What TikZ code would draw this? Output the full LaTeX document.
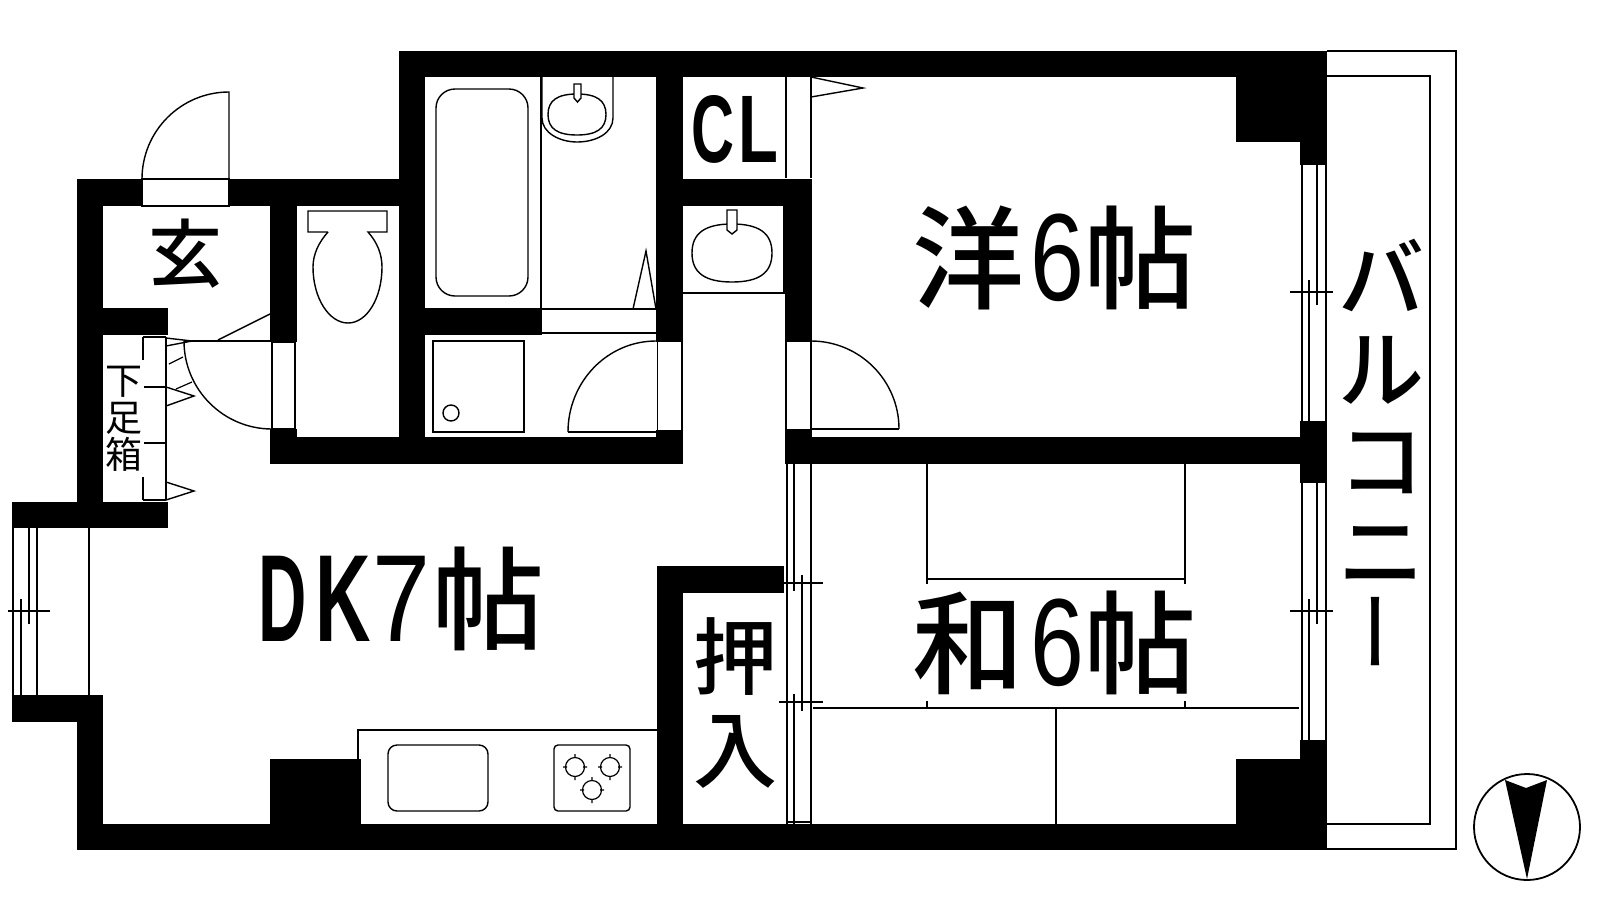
\documentclass[tikz,border=0pt]{standalone}
\usepackage{graphicx}
\usepackage{fontspec}
\setmainfont{Liberation Sans}
\newfontfamily\jp{Noto Sans CJK JP}
\newfontfamily\jpm{Noto Sans CJK JP Medium}
\newcommand{\nar}[2]{\scalebox{#1}[1.0]{#2}}
\newcommand{\latb}[2]{{\rmfamily\fontsize{124}{124}\selectfont\bfseries\nar{#1}{#2}}}
\newcommand{\latr}[2]{{\rmfamily\fontsize{124}{124}\selectfont\mdseries\nar{#1}{#2}}}
\newcommand{\wbox}[4]{\fill[wallfill] (#1,#2) rectangle (#3,#4);}
\newcommand{\squi}[4]{\draw[ln,fill=white,shift={(#1,#2)},x=#3pt,y=#4pt] (-1,0) .. controls (-1,-.68) and (-.68,-1) .. (0,-1) .. controls (.68,-1) and (1,-.68) .. (1,0) .. controls (1,.68) and (.68,1) .. (0,1) .. controls (-.68,1) and (-1,.68) .. (-1,0) -- cycle;}
\newcommand{\burner}[2]{\draw[thinln,shift={(#1,#2)}] (0,0) circle[radius=9.5pt] (-12,0)--(-8,0) (8,0)--(12,0) (0,-13)--(0,-9) (0,9)--(0,13);}
\tikzset{
  wallfill/.style={fill=black},
  ln/.style={draw=black,line width=1.4pt},
  thinln/.style={draw=black,line width=1.2pt},
  room/.style={inner sep=0pt,anchor=base west,font=\jpm\fontsize{112}{112}\selectfont},
  side/.style={inner sep=0pt,align=center},
}
\begin{document}
\begin{tikzpicture}[x=1pt,y=-1pt]
\useasboundingbox (0,0) rectangle (1600,900);
\fill[white] (0,0) rectangle (1600,900);
% walls
\wbox{399}{51}{1327}{77}
\wbox{399}{51}{425}{464}
\wbox{77}{179}{142}{206}
\wbox{229}{179}{425}{206}
\wbox{77}{179}{103}{528}
\wbox{103}{308}{168}{335}
\wbox{270}{206}{297}{342}
\wbox{270}{429}{297}{464}
\wbox{270}{437}{683}{464}
\wbox{656}{51}{683}{342}
\wbox{656}{430}{683}{464}
\wbox{425}{308}{542}{335}
\wbox{683}{179}{812}{206}
\wbox{785}{179}{812}{342}
\wbox{785}{429}{812}{464}
\wbox{785}{437}{1327}{464}
\wbox{1236}{51}{1327}{142}
\wbox{1300}{51}{1327}{165}
\wbox{1300}{421}{1327}{483}
\wbox{1300}{740}{1327}{850}
\wbox{1236}{759}{1327}{850}
\wbox{77}{824}{1327}{850}
\wbox{12}{502}{168}{528}
\wbox{12}{695}{103}{722}
\wbox{77}{695}{103}{850}
\wbox{270}{759}{361}{850}
\wbox{657}{566}{683}{850}
\wbox{657}{566}{784}{593}
% entry door
\draw[ln] (142,179) arc[start angle=180,end angle=90,radius=87pt] -- (229,179);
\draw[thinln] (142,179) rectangle (229,206);
% hall door
\draw[thinln] (272,342) rectangle (295,429);
\draw[ln] (166,338) -- (192,341) -- (166,346);
\draw[thinln] (169,364) -- (183,357);
\draw[thinln] (176,389) -- (192,382);
\draw[ln] (184,341) -- (272,341);
\draw[ln] (184,341) arc[start angle=180,end angle=270,radius=88pt];
\draw[ln] (218,340) -- (270,314);
% shoe box
\draw[thinln] (166,337) -- (166,500) (143,337) -- (166,337) (143,500) -- (166,500);
\draw[thinln] (143,337) -- (143,360) (143,477) -- (143,500);
\draw[ln] (143,387) -- (166,387);
\draw[thinln] (143,443) -- (166,443);
\draw[ln] (166,387) -- (194,396) -- (166,406);
\draw[ln] (166,482) -- (194,491) -- (166,500);
% toilet
\draw[ln] (328,232) -- (308,232) -- (308,211) -- (387,211) -- (387,232) -- (368,232)
  .. controls (377,242) and (382,254) .. (382,267) .. controls (382,298) and (367,323) .. (348,323)
  .. controls (329,323) and (313,298) .. (313,267) .. controls (313,254) and (319,242) .. (328,232);
% bath
\draw[ln] (541,77) -- (541,308);
\draw[ln,rounded corners=19pt] (436,89) rectangle (528,296);
\draw[ln] (542,77) -- (542,118) .. controls (542,133) and (560,142) .. (577,142) .. controls (596,142) and (613,133) .. (613,118) -- (613,77);
\squi{577}{114.5}{29}{20.5}
\draw[ln,fill=white] (574,84) -- (581,84) -- (581,98) -- (577.5,102) -- (574,98) -- cycle;
\draw[ln] (633,309) -- (646,251) -- (656,309);
\draw[ln] (542,309) -- (656,309) (542,333) -- (656,333);
% washroom
\draw[ln] (433,341) rectangle (524,432);
\draw[ln] (451,413) circle[radius=8pt];
\draw[ln] (568,432) arc[start angle=180,end angle=90,x radius=88pt,y radius=91pt];
\draw[ln] (568,432) -- (656,432);
\draw[thinln] (657.5,341) -- (657.5,430) (682,342) -- (682,430);
% corridor sink
\draw[ln] (683,293) -- (784,293) -- (784,206);
\squi{732}{253}{40}{29}
\draw[ln,fill=white] (727,210) -- (737,210) -- (737,230) -- (732,234) -- (727,230) -- cycle;
% closet door
\draw[thinln] (786,77) -- (786,178) (811,77) -- (811,178);
\draw[ln] (811,77) -- (863,88) -- (811,97);
% room door
\draw[thinln] (786,342) -- (786,429);
\draw[ln] (811,341) -- (811,429) -- (899,429);
\draw[ln] (811,341) arc[start angle=90,end angle=0,radius=88pt];
% sliding door to washitsu
\draw[thinln] (787,464) -- (787,824) (811,464) -- (811,824) (787,822) -- (811,822);
\draw[thinln] (794,464) -- (794,591) (802,575) -- (802,711) (794,694) -- (794,824);
\draw[thinln] (784,583) -- (823,583) (779,702) -- (823,702);
% bay window
\draw[thinln] (13,528) -- (13,695) (37,528) -- (37,695) (89,528) -- (89,695);
\draw[thinln] (29,528) -- (29,624) (21,599) -- (21,695) (8,611) -- (50,611);
% east windows
\draw[thinln] (1302,165) -- (1302,421) (1326,165) -- (1326,421);
\draw[thinln] (1317,165) -- (1317,305) (1309,280) -- (1309,421) (1290,292) -- (1333,292);
\draw[thinln] (1302,483) -- (1302,740) (1326,483) -- (1326,740);
\draw[thinln] (1317,483) -- (1317,624) (1309,599) -- (1309,740) (1290,611) -- (1333,611);
% balcony
\draw[thinln] (1327,51) -- (1456,51) -- (1456,849) -- (1327,849);
\draw[thinln] (1327,76) -- (1430,76) -- (1430,824) -- (1327,824);
% tatami
\draw[thinln] (813,708) -- (1299,708) (1056,708) -- (1056,824);
\draw[thinln] (927,464) -- (927,584) (1185,464) -- (1185,584) (927,579) -- (1185,579);
\draw[thinln] (927,701) -- (927,708) (1185,701) -- (1185,708);
% kitchen
\draw[thinln] (358,759) -- (358,730) -- (657,730);
\draw[ln,rounded corners=9pt] (388,745) rectangle (488,811);
\draw[ln,rounded corners=4pt] (554,745) rectangle (630,811);
\burner{575}{767}
\burner{610}{767}
\burner{592}{790}
% compass
\draw[line width=1.8pt] (1527,827) circle[radius=53pt];
\fill (1505,780) -- (1526,788) -- (1547,780) -- (1527,879) -- cycle;
% labels
\node[room] (western) at (912,300) {洋\hspace{6pt}\latr{0.78}{6}\hspace{0pt}帖};
\node[room] (japanese) at (912,685) {和\hspace{6pt}\latr{0.78}{6}\hspace{0pt}帖};
\node[room] (dk) at (258,641) {\latb{0.54}{D}\hspace{9pt}\latb{0.62}{K}\hspace{1pt}\latr{0.84}{7}\hspace{2pt}帖};
\node[inner sep=0pt,anchor=base west,font=\fontsize{96}{96}\selectfont\bfseries] (cl) at (691,162) {\nar{0.62}{C}\hspace{4pt}\nar{0.68}{L}};
\node[side,font=\jpm\fontsize{74}{74}\selectfont] (genkan) at (185,254) {玄};
\node[side,font=\jp\fontsize{37}{37}\selectfont,fill=white,inner xsep=1pt,inner ysep=3pt] (shoe) at (124,419) {下\\足\\箱};
\node[side,font=\jpm\fontsize{84}{93}\selectfont] (oshiire) at (735,703) {押\\入};
\node[side,font=\jpm\fontsize{86}{91}\selectfont] (balcony) at (1381,457) {バ\\ル\\コ\\ニ\\\hspace*{18pt}{\jp\rotatebox{90}{ー}}};
\end{tikzpicture}
\end{document}
